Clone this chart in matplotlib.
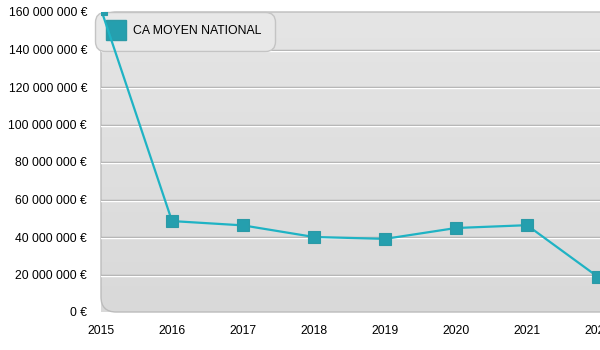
import numpy as np
import matplotlib
matplotlib.use("Agg")
import matplotlib.pyplot as plt
from matplotlib.patches import FancyBboxPatch
from matplotlib.lines import Line2D
from matplotlib.ticker import FuncFormatter
import matplotlib.transforms as mtransforms

plt.rcParams["font.family"] = ["Liberation Sans", "DejaVu Sans"]

# ── data ───────────────────────────────────────────────────────────────────────
years = [2015, 2016, 2017, 2018, 2019, 2020, 2021, 2022]
ca_moyen = [161.5e6, 48.5e6, 46.2e6, 40.0e6, 39.0e6, 44.8e6, 46.3e6, 18.7e6]
series_label = "CA MOYEN NATIONAL"
y_ticks = [0, 20e6, 40e6, 60e6, 80e6, 100e6, 120e6, 140e6, 160e6]

LINE_COL = "#1fb3c4"
MARK_COL = "#259fae"

fig = plt.figure(figsize=(6, 3.5), dpi=100)
# plot area: x from 101px, right side runs off the figure
ax = fig.add_axes([101 / 600, 1 - 312 / 350, 504 / 600, 300 / 350])

# ── rounded gradient background ───────────────────────────────────────────────
bg = FancyBboxPatch((0, 0), 1.1, 1, boxstyle="round,pad=0,rounding_size=0.03",
                    mutation_aspect=504 / 300, transform=ax.transAxes,
                    facecolor="none", edgecolor="#bcbcbc", lw=1, zorder=0.5,
                    clip_on=False)
ax.add_patch(bg)
grad = np.linspace(0, 1, 256).reshape(-1, 1)
img = ax.imshow(grad, extent=[0, 1.1, 0, 1], transform=ax.transAxes, aspect="auto",
                cmap=matplotlib.colors.LinearSegmentedColormap.from_list(
                    "bg", ["#e5e5e5", "#d9d9d9"]), zorder=0.2, clip_on=False)
img.set_clip_path(bg)
ax.set_xlim(2015, 2015 + 504 / 71)
ax.set_ylim(0, 160e6)

# embossed grid lines
shift = mtransforms.offset_copy(ax.transData, fig=fig, y=-1, units="dots")
for v in y_ticks[1:-1]:
    ax.axhline(v, color="#a6a6a6", lw=1, zorder=1)
    ax.plot([0, 1], [v, v], color="white", lw=1, zorder=1,
            transform=mtransforms.blended_transform_factory(ax.transAxes, shift))

# ── series ─────────────────────────────────────────────────────────────────────
ax.plot(years, ca_moyen, color=LINE_COL, lw=1.6, zorder=3)
ax.plot(years, ca_moyen, ls="none", marker="s", ms=8.5, mfc=MARK_COL,
        mec="#2b9aa6", mew=0.8, zorder=4)

for s in ax.spines.values():
    s.set_visible(False)
ax.set_xticks(years)
ax.set_yticks(y_ticks)
ax.yaxis.set_major_formatter(FuncFormatter(
    lambda v, p: (f"{int(v):,}".replace(",", " ") + " €")))
ax.tick_params(length=0, labelsize=8.7, colors="black")
ax.tick_params(axis="y", pad=10)
ax.tick_params(axis="x", pad=9)

# ── legend ─────────────────────────────────────────────────────────────────────
handle = Line2D([], [], ls="none", marker="s", ms=14, mfc=MARK_COL, mec="#2b9aa6")
leg = ax.legend([handle], [series_label], loc="upper left",
                bbox_to_anchor=(95 / 600, 1 - 12 / 350),
                bbox_transform=fig.transFigure, borderaxespad=0,
                fancybox=True, facecolor="#e8e8e8", edgecolor="#c4c4c4",
                framealpha=1, fontsize=8.8, borderpad=1.1, handletextpad=0.8,
                handlelength=1.2)
leg.get_frame().set_boxstyle("round,pad=0,rounding_size=0.8")
leg.set_zorder(2.5)

fig.savefig("out.png", dpi=100)
